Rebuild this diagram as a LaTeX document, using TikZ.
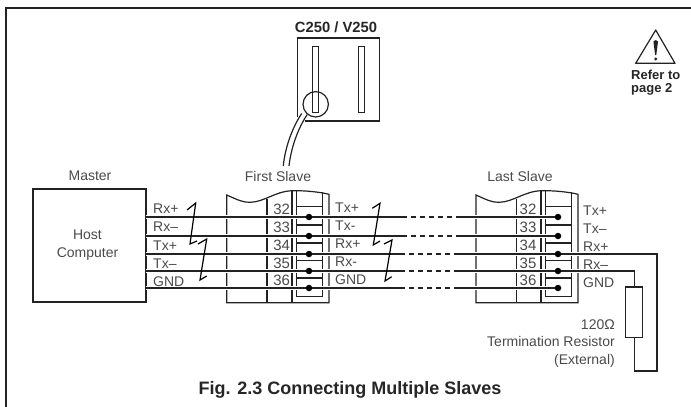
\documentclass[tikz,border=0pt]{standalone}
\usepackage{fontspec}
\setmainfont{Liberation Sans}
\definecolor{inkline}{HTML}{222222}
\definecolor{inktext}{HTML}{4A4A4A}
\tikzset{
  line/.style={draw=inkline, line width=1.2pt},
  heavy/.style={draw=inkline, line width=1.5pt},
  wire/.style={draw=inkline, line width=1.5pt, preaction={draw=white, line width=4pt}},
  dashwire/.style={draw=inkline, line width=1.5pt, dash pattern=on 5pt off 4pt},
  zigzag/.style={draw=black, line width=1.2pt, line join=miter},
  dot/.style={circle, fill=black, inner sep=0pt, minimum size=6.5pt},
  lab/.style={text=inktext, font=\fontsize{14}{16}\selectfont, inner sep=0pt, text height=10pt, text depth=0pt},
  numlab/.style={lab, font=\fontsize{15}{17}\selectfont},
  boldlab/.style={text=black!85, font=\fontsize{14.8}{17}\selectfont\bfseries, inner sep=0pt, text height=10.5pt, text depth=0pt},
  referlab/.style={text=black!85, anchor=west, align=left, inner sep=0pt, font=\fontsize{13}{13}\selectfont\bfseries}
}
\begin{document}
\begin{tikzpicture}[x=1pt,y=-1pt]
  \useasboundingbox (0,0) rectangle (691,407);
  % frame
  \draw [heavy] (6,407)--(6,8)--(691,8);
  % drive
  \draw [line] (297.3,117)--(297.3,38)--(379.3,38)--(379.3,121)--(305,121);
  \draw [line, line width=.8pt] (312.3,46.7) rectangle (318.3,112.3);
  \draw [line, line width=.8pt] (358.3,46.7) rectangle (364.3,112.3);
  \draw [line] (315.7,104.3) circle (12.7);
  \draw [line] (301.7,113.5) .. controls (292,128) and (285,148) .. (283.3,166);
  \draw [line] (307.3,114.5) .. controls (298,128) and (291,148) .. (289,166);
  % warning
  \draw [line, line join=round] (655.7,30)--(675,63.3)--(635.7,63.3)--cycle;
  \fill [inkline] (653.4,41.5) .. controls (654,39.5) and (657.4,39.5) .. (658,41.5) -- (656.3,55) -- (655.1,55) -- cycle;
  \fill [inkline] (655.7,59) circle (1.7);
  % master
  \node (master) at (89,245) [draw=inkline, line width=2pt, minimum width=113pt, minimum height=113pt, inner sep=0pt] {};
  % first slave
  \draw [line] (226.7,195) .. controls (238,200) and (243,202.5) .. (250,202.3) .. controls (265,202) and (275,191) .. (293,190.7) .. controls (305,190.5) and (320,192) .. (329,194.3) -- (329,302.7) -- (226.7,302.7) -- cycle;
  \draw [line] (267,199) -- (267,302.7); \draw [line] (292,191) -- (292,302.7);
  \draw [line, line width=.8pt] (296.7,191) -- (296.7,296) -- (322.7,296) -- (322.7,192);
  \draw [line, line width=1.2pt] (296.7,206.7)--(322.7,206.7); \draw [line, line width=1.2pt] (296.7,225)--(322.7,225);
  \draw [line, line width=1.2pt] (296.7,243)--(322.7,243); \draw [line, line width=1.2pt] (296.7,260.7)--(322.7,260.7);
  \draw [line, line width=1.2pt] (296.7,278)--(322.7,278);
  % last slave
  \draw [line] (476,195) .. controls (487,200) and (492,202.5) .. (499,202.3) .. controls (514,202) and (524,191) .. (542,190.7) .. controls (554,190.5) and (569,192) .. (578,194.3) -- (578,302.7) -- (476,302.7) -- cycle;
  \draw [line] (516.7,199) -- (516.7,302.7); \draw [line] (541,191) -- (541,302.7);
  \draw [line, line width=.8pt] (545.7,191) -- (545.7,296) -- (571.7,296) -- (571.7,192);
  \draw [line, line width=1.2pt] (545.7,206.7)--(571.7,206.7); \draw [line, line width=1.2pt] (545.7,225)--(571.7,225);
  \draw [line, line width=1.2pt] (545.7,243)--(571.7,243); \draw [line, line width=1.2pt] (545.7,260.7)--(571.7,260.7);
  \draw [line, line width=1.2pt] (545.7,278)--(571.7,278);
  % wire ends
  \coordinate (hostA) at (146,217); \coordinate (hostB) at (146,236); \coordinate (hostC) at (146,254);
  \coordinate (hostD) at (146,271); \coordinate (hostE) at (146,288);
  \coordinate (outA) at (402,217); \coordinate (outB) at (402,236); \coordinate (outC) at (400,254);
  \coordinate (outD) at (400,271); \coordinate (outE) at (400,288);
  \coordinate (inA) at (456,217); \coordinate (inB) at (456,236); \coordinate (inC) at (456,254);
  \coordinate (inD) at (456,271); \coordinate (inE) at (456,288);
  \coordinate (firstA) at (309,217); \coordinate (firstB) at (309,236); \coordinate (firstC) at (309,254);
  \coordinate (firstD) at (309,271); \coordinate (firstE) at (309,288);
  \coordinate (lastA) at (558,217); \coordinate (lastB) at (558,236); \coordinate (lastC) at (558,254);
  \coordinate (lastD) at (558,271); \coordinate (lastE) at (558,288);
  % resistor
  \node (resistor) at (634.3,312.3) [draw=inkline, line width=1.2pt, fill=white, minimum width=17pt, minimum height=50.5pt, inner sep=0pt] {};
  \coordinate (cornerA) at (657,254); \coordinate (cornerB) at (657,371);
  \coordinate (cornerC) at (634.3,371); \coordinate (cornerD) at (634.3,271);
  % wires
  \draw [wire] (hostA)--(firstA)--(outA); \draw [wire] (hostB)--(firstB)--(outB);
  \draw [wire] (hostC)--(firstC)--(outC); \draw [wire] (hostD)--(firstD)--(outD);
  \draw [wire] (hostE)--(firstE)--(outE);
  \draw [dashwire] (outA)--(inA); \draw [dashwire] (outB)--(inB); \draw [dashwire] (outC)--(inC);
  \draw [dashwire] (outD)--(inD); \draw [dashwire] (outE)--(inE);
  \draw [wire] (inA)--(lastA); \draw [wire] (inB)--(lastB);
  \draw [wire] (inC)--(lastC)--(cornerA)--(cornerB)--(cornerC)--(resistor.south);
  \draw [wire] (inD)--(lastD)--(cornerD)--(resistor.north);
  \draw [wire] (inE)--(lastE);
  \node (dotFA) at (firstA) [dot] {}; \node (dotFB) at (firstB) [dot] {}; \node (dotFC) at (firstC) [dot] {};
  \node (dotFD) at (firstD) [dot] {}; \node (dotFE) at (firstE) [dot] {};
  \node (dotLA) at (lastA) [dot] {}; \node (dotLB) at (lastB) [dot] {}; \node (dotLC) at (lastC) [dot] {};
  \node (dotLD) at (lastD) [dot] {}; \node (dotLE) at (lastE) [dot] {};
  % zigzags
  \draw [zigzag] (187,210)--(195.7,203)--(190,244)--(197,241);
  \draw [zigzag] (198,244)--(206.7,239)--(200,280)--(206.7,276);
  \draw [zigzag] (372.3,208.3)--(380,203.3)--(373.3,245)--(380,241);
  \draw [zigzag] (384,244)--(392,240)--(385,281)--(391.7,276.7);
  % labels
  \node (titleDrive) at (336,27.7) [boldlab] {C250 / V250};
  \node (refer) at (631,83) [referlab] {Refer to\\page 2};
  \node (labMaster) at (90,175) [lab] {Master};
  \node (labFirst) at (278,176) [lab] {First Slave};
  \node (labLast) at (520,176) [lab] {Last Slave};
  \node (labHost) at (87.5,234) [lab] {Host};
  \node (labComputer) at (87.5,252) [lab] {Computer};
  \node (hA) at (153,208) [lab, anchor=west] {Rx+}; \node (hB) at (153,226) [lab, anchor=west] {Rx–};
  \node (hC) at (153,245) [lab, anchor=west] {Tx+}; \node (hD) at (153,263) [lab, anchor=west] {Tx–};
  \node (hE) at (153,281) [lab, anchor=west] {GND};
  \node (nA) at (281.7,209) [numlab] {32}; \node (nB) at (281.7,227) [numlab] {33}; \node (nC) at (281.7,245) [numlab] {34};
  \node (nD) at (281.7,263) [numlab] {35}; \node (nE) at (281.7,280) [numlab] {36};
  \node (fA) at (335,207) [lab, anchor=west] {Tx+}; \node (fB) at (335,225) [lab, anchor=west] {Tx-};
  \node (fC) at (335,243) [lab, anchor=west] {Rx+}; \node (fD) at (335,261) [lab, anchor=west] {Rx-};
  \node (fE) at (335,279) [lab, anchor=west] {GND};
  \node (mA) at (528,209) [numlab] {32}; \node (mB) at (528,227) [numlab] {33}; \node (mC) at (528,245) [numlab] {34};
  \node (mD) at (528,263) [numlab] {35}; \node (mE) at (528,280) [numlab] {36};
  \node (lA) at (583,210) [lab, anchor=west] {Tx+}; \node (lB) at (583,228) [lab, anchor=west] {Tx–};
  \node (lC) at (583,246) [lab, anchor=west] {Rx+}; \node (lD) at (583,264) [lab, anchor=west] {Rx–};
  \node (lE) at (583,282) [lab, anchor=west] {GND};
  \node (labOhm) at (615,324) [lab, anchor=east] {120Ω};
  \node (labTerm) at (615,341) [lab, anchor=east] {Termination Resistor};
  \node (labExt) at (615,359) [lab, anchor=east] {(External)};
  \node (caption) at (350,388) [boldlab, font=\fontsize{18}{20}\selectfont\bfseries, text height=12.5pt] {Fig. 2.3 Connecting Multiple Slaves};
\end{tikzpicture}
\end{document}
